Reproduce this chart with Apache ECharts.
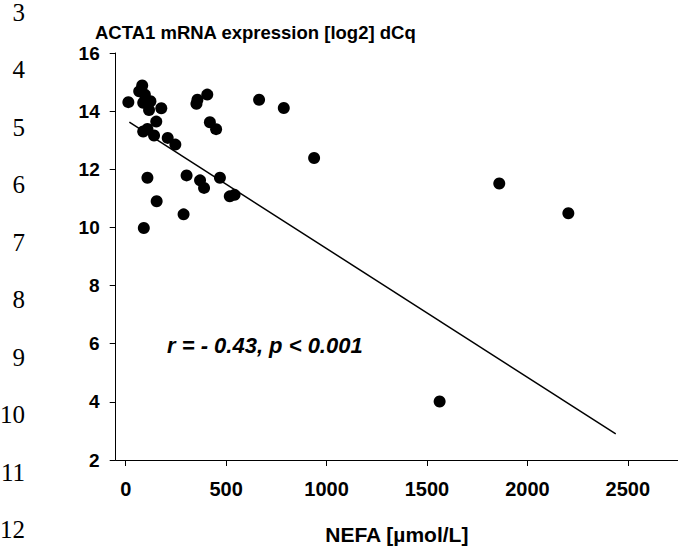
<!DOCTYPE html>
<html><head><meta charset="utf-8">
<script src="https://cdn.jsdelivr.net/npm/echarts@6/dist/echarts.min.js"></script>
<style>html,body{margin:0;padding:0;background:#fff}#c{width:678px;height:550px}</style>
</head><body><div id="c"></div>
<script>
// NEFA [µmol/L] (x) and ACTA1 mRNA expression [log2] dCq (y)
const nefa  = [13, 82, 67, 95, 87, 123, 116, 177, 152, 87, 108, 141, 209, 247, 357, 352, 406, 419, 450, 664, 787, 938, 108, 303, 370, 390, 469, 518, 542, 154, 288, 90, 1563, 1860, 2204];
const acta1 = [14.31, 14.88, 14.68, 14.57, 14.29, 14.34, 14.04, 14.10, 13.64, 13.30, 13.39, 13.16, 13.08, 12.85, 14.39, 14.25, 14.57, 13.62, 13.38, 14.39, 14.11, 12.39, 11.71, 11.79, 11.62, 11.36, 11.71, 11.07, 11.12, 10.90, 10.45, 9.98, 4.01, 11.51, 10.49];
// regression line end points
const fitNefa  = [18, 2440];
const fitActa1 = [13.62, 2.90];
const xTicks = [0, 500, 1000, 1500, 2000, 2500];
const yTicks = [2, 4, 6, 8, 10, 12, 14, 16];
const lineNumbers = ['3', '4', '5', '6', '7', '8', '9', '10', '11', '12'];
const titleText = 'ACTA1 mRNA expression [log2] dCq';
const xName = 'NEFA [µmol/L]';
const statText = 'r = - 0.43, p < 0.001';

const FONT = '"Liberation Sans", Arial, sans-serif';
const chart = echarts.init(document.getElementById('c'), null, {renderer: 'svg'});

const graphics = lineNumbers.map((t, i) => ({
  type: 'text', x: 25, y: 12 + i * 57.5,
  style: {text: t, fontFamily: '"Liberation Serif", serif', fontSize: 25, fill: '#000',
          align: 'right', verticalAlign: 'middle'}
}));
graphics.push({
  type: 'text', x: 95, y: 32,
  style: {text: titleText, fontFamily: FONT, fontWeight: 'bold', fontSize: 18.5, fill: '#000',
          align: 'left', verticalAlign: 'middle'}
});
graphics.push({
  type: 'text', x: 167, y: 345,
  style: {text: statText, fontFamily: FONT, fontWeight: 'bold', fontStyle: 'italic', fontSize: 22, fill: '#000',
          align: 'left', verticalAlign: 'middle'}
});

chart.setOption({
  animation: false,
  backgroundColor: '#fff',
  grid: {left: 115.7, top: 53, width: 569.5, height: 407, containLabel: false},
  xAxis: {
    type: 'value', min: -50, max: 2750,
    splitLine: {show: false},
    axisLine: {show: true, onZero: false, lineStyle: {color: '#000', width: 1}},
    axisTick: {show: true, length: 6, customValues: xTicks, lineStyle: {color: '#000'}},
    axisLabel: {customValues: xTicks, margin: 19, fontFamily: FONT, fontWeight: 'bold', fontSize: 20, color: '#000',
                formatter: v => String(v)},
    name: xName, nameLocation: 'middle', nameGap: 64,
    nameTextStyle: {fontFamily: FONT, fontWeight: 'bold', fontSize: 21, color: '#000'}
  },
  yAxis: {
    type: 'value', min: yTicks[0], max: yTicks[yTicks.length - 1], interval: 2,
    splitLine: {show: false},
    axisLine: {show: true, onZero: false, lineStyle: {color: '#000', width: 1}},
    axisTick: {show: true, length: 6, lineStyle: {color: '#000'}},
    axisLabel: {margin: 16, fontFamily: FONT, fontWeight: 'bold', fontSize: 19, color: '#000',
                formatter: v => String(v)}
  },
  graphic: graphics,
  series: [
    {
      type: 'line', data: fitNefa.map((x, i) => [x, fitActa1[i]]),
      showSymbol: false, symbol: 'none', lineStyle: {color: '#000', width: 1.5}, z: 1, silent: true
    },
    {
      type: 'scatter', data: nefa.map((x, i) => [x, acta1[i]]),
      symbol: 'circle', symbolSize: 12, itemStyle: {color: '#000', opacity: 1}, z: 2
    }
  ]
});
</script>
</body></html>
